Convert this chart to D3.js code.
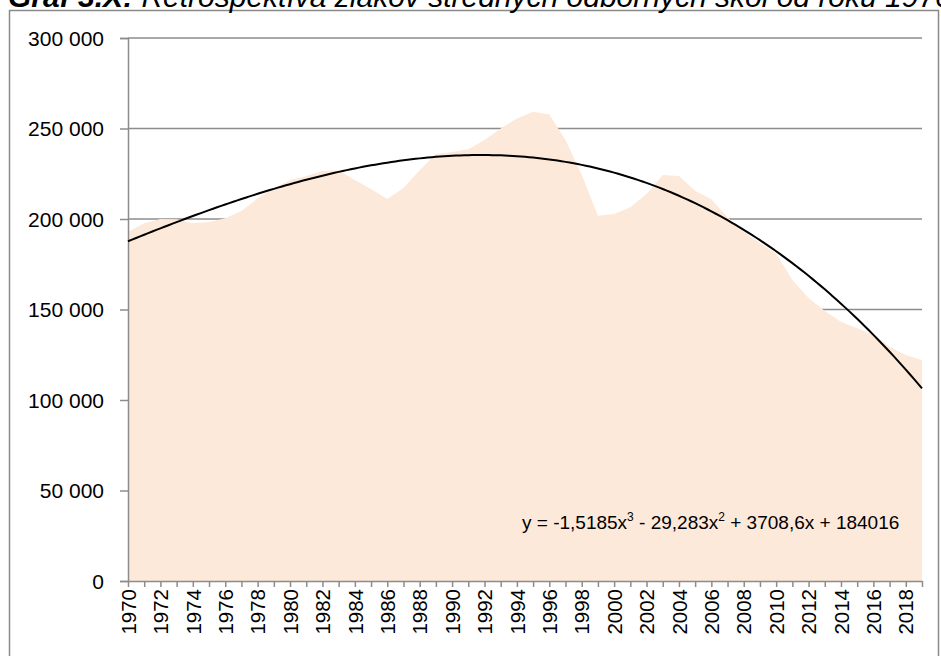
<!DOCTYPE html>
<html>
<head>
<meta charset="utf-8">
<script src="https://cdn.jsdelivr.net/npm/d3@7"></script>
<style>
  body { margin: 0; background: #fff; }
  svg { display: block; }
  text { font-family: "Liberation Sans", Arial, sans-serif; fill: #000; }
</style>
</head>
<body>
<svg id="chart" width="941" height="656"></svg>
<script>
// data
var years = d3.range(1970, 2020);
var students = [
  193000, 197600, 200000, 199800, 197600, 198300, 200400, 204400, 211400, 217000,
  221500, 223800, 226500, 226800, 221500, 216600, 211000, 217100, 227000, 235900,
  237000, 238600, 243600, 250000, 255500, 259300, 257800, 243600, 224400, 201800,
  202800, 206500, 213800, 224300, 223800, 215600, 210900, 201000, 193000, 186700,
  181000, 166300, 156400, 149200, 143300, 139600, 135900, 129400, 124900, 122100
];
var yTicks = [0, 50000, 100000, 150000, 200000, 250000, 300000];
// trendline coefficients (x^3, x^2, x, const), x = 1 for 1970
var trendCoef = [-1.5185, -29.283, 3708.6, 184016];
var trendLabel = ["y = -1,5185x", "3", " - 29,283x", "2", " + 3708,6x + 184016"];

var svg = d3.select("#chart");

// outer frame
svg.append("rect")
  .attr("x", 9.5).attr("y", 10.5)
  .attr("width", 929).attr("height", 700)
  .attr("fill", "none").attr("stroke", "#8a8a8a").attr("stroke-width", 1.5);

// title (cut off at the top, as in the source)
var title = svg.append("text")
  .attr("x", 8).attr("y", 7)
  .style("font-size", "30px").style("font-style", "italic");
title.append("tspan").style("font-weight", "bold").text("Graf 3.X: ");
title.append("tspan").text("Retrospektíva žiakov stredných odborných škôl od roku 1970");

var x = d3.scaleLinear().domain([1970, 2019]).range([128, 922]);
var y = d3.scaleLinear().domain([0, 300000]).range([581, 38]);

var loc = d3.formatLocale({ decimal: ",", thousands: " ", grouping: [3], currency: ["", ""] });
var fmt = loc.format(",d");

// gridlines
svg.append("g")
  .selectAll("line")
  .data(yTicks.slice(1))
  .enter().append("line")
    .attr("x1", 128).attr("x2", 922)
    .attr("y1", function(d) { return y(d); })
    .attr("y2", function(d) { return y(d); })
    .attr("stroke", "#8c8c8c").attr("stroke-width", 1.5);

// area
var area = d3.area()
  .x(function(d, i) { return x(years[i]); })
  .y0(y(0))
  .y1(function(d) { return y(d); });

svg.append("path")
  .datum(students)
  .attr("d", area)
  .attr("fill", "#fde9d9");

// y axis
var yAxis = d3.axisLeft(y)
  .tickValues(yTicks)
  .tickSize(8)
  .tickPadding(16)
  .tickFormat(fmt);

var gy = svg.append("g")
  .attr("transform", "translate(128,0)")
  .call(yAxis);
gy.select(".domain").attr("stroke", "#8c8c8c").attr("stroke-width", 1.5);
gy.selectAll(".tick line").attr("stroke", "#8c8c8c").attr("stroke-width", 1.5);
gy.selectAll(".tick text")
  .style("font-size", "21px")
  .attr("dy", "0.35em");

// x axis
var xAxis = d3.axisBottom(x)
  .tickValues(years)
  .tickSize(6)
  .tickSizeOuter(0)
  .tickFormat(function(d) { return d % 2 === 0 ? d : ""; });

var gx = svg.append("g")
  .attr("transform", "translate(0,581)")
  .call(xAxis);
gx.select(".domain").attr("stroke", "#8c8c8c").attr("stroke-width", 1.5);
gx.selectAll(".tick line").attr("stroke", "#8c8c8c").attr("stroke-width", 1.5);
gx.selectAll(".tick text")
  .style("font-size", "20.5px")
  .attr("text-anchor", "end")
  .attr("transform", "rotate(-90)")
  .attr("x", -8)
  .attr("y", 0)
  .attr("dy", "0.35em");

// polynomial trendline
var trendPts = d3.range(1, 50.01, 0.25).map(function(t) {
  var v = trendCoef[0] * t * t * t + trendCoef[1] * t * t + trendCoef[2] * t + trendCoef[3];
  return [x(1969 + t), y(v)];
});

svg.append("path")
  .datum(trendPts)
  .attr("d", d3.line())
  .attr("fill", "none")
  .attr("stroke", "#000")
  .attr("stroke-width", 2);

// equation
var eq = svg.append("text")
  .attr("x", 522).attr("y", 529)
  .style("font-size", "19px");
trendLabel.forEach(function(s, i) {
  var ts = eq.append("tspan").text(s);
  if (i === 1 || i === 3) {
    ts.style("font-size", "12px").attr("dy", -8);
  } else if (i > 0) {
    ts.attr("dy", 8);
  }
});
</script>
</body>
</html>
